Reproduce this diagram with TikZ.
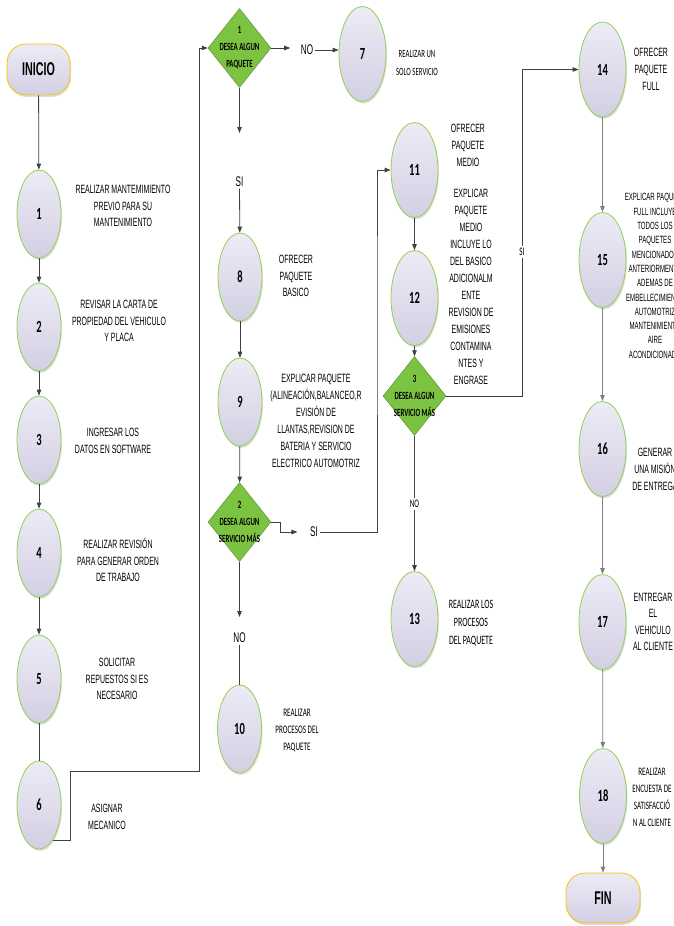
\documentclass[tikz,border=0pt]{standalone}
\usepackage{fontspec}
\setmainfont{Liberation Sans}[FakeStretch=0.58]
\newfontfamily\calfont{Carlito}[FakeStretch=0.62]
\usetikzlibrary{shapes.geometric,arrows.meta,shadows}
\definecolor{stepline}{RGB}{146,208,80}
\definecolor{steptop}{RGB}{237,235,246}
\definecolor{stepbot}{RGB}{211,207,227}
\definecolor{decfill}{RGB}{125,195,66}
\definecolor{decline}{RGB}{80,135,45}
\definecolor{termline}{RGB}{255,192,0}
\definecolor{flowline}{RGB}{64,64,64}
\tikzset{
  stepnode/.style={ellipse,draw=stepline,thick,top color=steptop,bottom color=stepbot,
    minimum width=44pt,minimum height=88pt,inner sep=0pt,
    drop shadow={shadow xshift=1pt,shadow yshift=-2pt,opacity=0.25},
    font=\calfont\bfseries\fontsize{17}{17}\selectfont},
  bigstep/.style={stepnode,minimum width=47pt,minimum height=95pt},
  termnode/.style={rectangle,rounded corners=19pt,draw=termline,thick,top color=steptop,bottom color=stepbot,
    minimum width=63pt,minimum height=51pt,inner sep=0pt,
    drop shadow={shadow xshift=1pt,shadow yshift=-2pt,opacity=0.25},
    font=\bfseries\fontsize{18.5}{18.5}\selectfont},
  decision/.style={diamond,draw=decline,fill=decfill,minimum width=63pt,minimum height=79pt,inner sep=0pt},
  dtext/.style={align=center,inner sep=0pt,font=\calfont\bfseries\fontsize{11}{17}\selectfont},
  note/.style={align=center,inner sep=0pt,font=\fontsize{12}{16.5}\selectfont},
  tightnote/.style={align=center,inner sep=0pt,font=\fontsize{10.5}{14.3}\selectfont},
  smallnote/.style={align=center,inner sep=0pt,font=\calfont\fontsize{11}{18}\selectfont},
  answer/.style={inner sep=1.5pt,font=\fontsize{14}{14}\selectfont},
  smallanswer/.style={fill=white,inner sep=2pt,font=\calfont\fontsize{11.5}{11.5}\selectfont},
  flow/.style={draw=flowline,line width=0.8pt,-{Triangle[length=6pt,width=4.5pt]}},
  plain/.style={draw=flowline,line width=0.8pt},
  grayflow/.style={flow,draw=black!50}
}
\begin{document}
\begin{tikzpicture}[x=1pt,y=-1pt]
\useasboundingbox (0,0) rectangle (674,926);
\clip (0,0) rectangle (674,926);

\node (inicio) at (38.5,69.5) [termnode] {INICIO};
\node (s1) at (39,214) [stepnode] {1};
\node (s2) at (39,327) [stepnode] {2};
\node (s3) at (39,440) [stepnode] {3};
\node (s4) at (39,553) [stepnode] {4};
\node (s5) at (39,679) [stepnode] {5};
\node (s6) at (39,805) [stepnode] {6};

\node (l1) at (123,206) [note] {REALIZAR MANTEMIMIENTO\\PREVIO PARA SU\\MANTENIMIENTO};
\node (l2) at (119,321) [note] {REVISAR LA CARTA DE\\PROPIEDAD DEL VEHICULO\\Y PLACA};
\node (l3) at (113,441) [note] {INGRESAR LOS\\DATOS EN SOFTWARE};
\node (l4) at (118,560) [note] {REALIZAR REVISIÓN\\PARA GENERAR ORDEN\\DE TRABAJO};
\node (l5) at (117,679) [note] {SOLICITAR\\REPUESTOS SI ES\\NECESARIO};
\node (l6) at (107,817) [note] {ASIGNAR\\MECANICO};

\node (d1) at (239.5,48) [decision] {};
\node (d1t) at (d1) [dtext] {1\\DESEA ALGUN\\PAQUETE};
\node (no1) at (307,50) [answer] {NO};
\node (s7) at (362.5,54) [bigstep] {7};
\node (l7) at (417,63) [smallnote] {REALIZAR UN\\SOLO SERVICIO};
\coordinate (a1) at (239.5,133);
\node (si1) at (239.5,182) [answer] {SI};
\node (s8) at (240,277) [stepnode] {8};
\node (l8) at (296,276) [note] {OFRECER\\PAQUETE\\BASICO};
\node (s9) at (240,402) [stepnode] {9};
\node (l9) at (316,421) [note,font=\fontsize{12}{17}\selectfont] {EXPLICAR PAQUETE\\(ALINEACIÓN,BALANCEO,R\\EVISIÓN DE\\LLANTAS,REVISION DE\\BATERIA Y SERVICIO\\ELECTRICO AUTOMOTRIZ};
\node (d2) at (239.5,522) [decision] {};
\node (d2t) at (d2) [dtext] {2\\DESEA ALGUN\\SERVICIO MÁS};
\node (si2) at (314,532) [answer] {SI};
\coordinate (a2) at (239.5,617);
\node (no2) at (239.5,638) [answer] {NO};
\node (s10) at (239.5,729) [stepnode] {10};
\node (l10) at (297,731) [smallnote,font=\calfont\fontsize{11.5}{17}\selectfont] {REALIZAR\\PROCESOS DEL\\PAQUETE};

\node (s11) at (414.5,170) [bigstep] {11};
\node (l11) at (468,145) [note,font=\fontsize{12}{17}\selectfont] {OFRECER\\PAQUETE\\MEDIO};
\node (s12) at (414.5,298) [bigstep] {12};
\node (l12) at (471,287) [note,font=\fontsize{12}{17}\selectfont] {EXPLICAR\\PAQUETE\\MEDIO\\INCLUYE LO\\DEL BASICO\\ADICIONALM\\ENTE\\REVISION DE\\EMISIONES\\CONTAMINA\\NTES Y\\ENGRASE};
\node (d3) at (414.5,396) [decision] {};
\node (d3t) at (d3) [dtext] {3\\DESEA ALGUN\\SERVICIO MÁS};
\node (si3) at (522,252) [smallanswer] {SI};
\node (no3) at (414.5,504) [smallanswer] {NO};
\node (s13) at (414.5,619) [bigstep] {13};
\node (l13) at (471,623) [smallnote,font=\calfont\fontsize{12.8}{18}\selectfont] {REALIZAR LOS\\PROCESOS\\DEL PAQUETE};

\node (s14) at (602.5,69.5) [bigstep] {14};
\node (l14) at (651,69) [note,font=\fontsize{12}{17}\selectfont] {OFRECER\\PAQUETE\\FULL};
\node (s15) at (602.5,260) [bigstep] {15};
\node (l15) at (655,276) [tightnote] {EXPLICAR PAQUETE\\FULL INCLUYE\\TODOS LOS\\PAQUETES\\MENCIONADOS\\ANTERIORMENTE\\ADEMAS DE\\EMBELLECIMIENTO\\AUTOMOTRIZ\\MANTENIMIENTO\\AIRE\\ACONDICIONADO};
\node (s16) at (602.5,449) [bigstep] {16};
\node (l16) at (655,469) [note,font=\fontsize{12}{17}\selectfont] {GENERAR\\UNA MISIÓN\\DE ENTREGA};
\node (s17) at (602.5,622) [bigstep] {17};
\node (l17) at (653,622) [note] {ENTREGAR\\EL\\VEHICULO\\AL CLIENTE};
\node (s18) at (603,796) [bigstep] {18};
\node (l18) at (652,797) [smallnote,font=\calfont\fontsize{11.4}{17}\selectfont] {REALIZAR\\ENCUESTA DE\\SATISFACCIÓ\\N AL CLIENTE};
\node (fin) at (603,898) [termnode,minimum width=74pt,minimum height=50pt] {FIN};

\draw [flow] (inicio) -- (s1);
\draw [flow] (s1) -- (s2);
\draw [flow] (s2) -- (s3);
\draw [flow] (s3) -- (s4);
\draw [flow] (s4) -- (s5);
\draw [plain] (s5) -- (s6);
\draw [flow] (s6.-69) -- ++(18,0) |- (199,771) |- (d1.west);

\draw [flow,shorten >=9pt] (d1.east) -- (d1.east -| no1.west);
\draw [flow] (no1.east) -- (no1.east -| s7.west);
\draw [flow] (d1.south) -- (a1);
\draw [flow] (si1) -- (s8);
\draw [flow] (s8) -- (s9);
\draw [flow] (s9) -- (d2);
\draw [flow,shorten >=11pt] (d2.east) -- ++(9,0) |- (si2.west);
\draw [flow] (si2) -| (377,300) |- (s11);
\draw [flow] (d2.south) -- (a2);
\draw [plain] (no2) -- (s10);

\draw [flow] (s11) -- (s12);
\draw [flow] (s12) -- (d3);
\draw [plain] (d3.east) -| (si3);
\draw [flow] (si3) |- (s14);
\draw [plain] (d3.south) -- (no3);
\draw [flow] (no3) -- (s13);

\draw [grayflow] (s14) -- (s15);
\draw [grayflow] (s15) -- (s16);
\draw [grayflow] (s16) -- (s17);
\draw [grayflow] (s17) -- (s18);
\draw [grayflow] (s18) -- (fin);
\end{tikzpicture}
\end{document}
